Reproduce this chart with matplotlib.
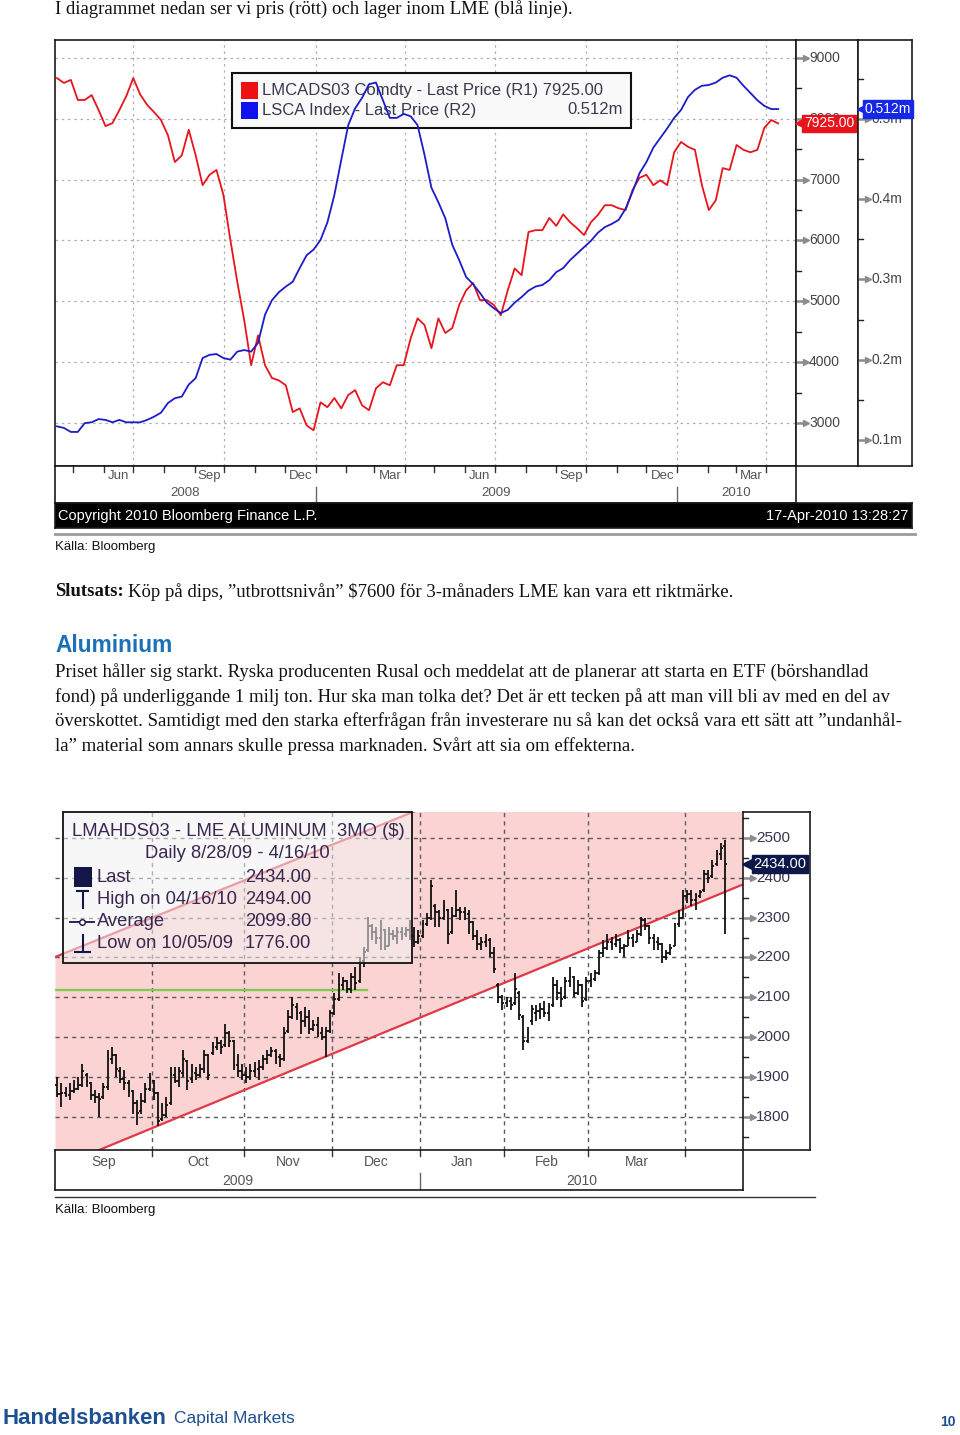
import numpy as np
import pandas as pd
import matplotlib
matplotlib.use("Agg")
import matplotlib.pyplot as plt
from matplotlib.patches import Rectangle
from matplotlib.lines import Line2D

plt.rcParams["font.family"] = ["Liberation Sans", "DejaVu Sans"]

W, H = 960, 1435

# --- copper 3M price (R1) and LME copper stocks in mln t (R2), weekly readings ---
first_week = "2008-04-15"
copper_price = [
    8670, 8590, 8640, 8310, 8310, 8390, 8145, 7880, 7930, 8145,
    8375, 8670, 8400, 8230, 8110, 7980, 7730, 7290, 7400, 7820,
    7400, 6910, 7080, 7160, 6750, 6010, 5320, 4690, 3950, 4440,
    3950, 3740, 3700, 3620, 3180, 3240, 2960, 2880, 3340, 3260,
    3410, 3240, 3460, 3540, 3290, 3210, 3570, 3670, 3620, 3950,
    3950, 4390, 4720, 4610, 4230, 4720, 4480, 4560, 4940, 5180,
    5300, 5020, 5020, 4940, 4770, 5180, 5540, 5430, 6140, 6170,
    6170, 6370, 6240, 6430, 6300, 6200, 6090, 6300, 6420, 6580,
    6580, 6530, 6500, 6830, 7030, 7080, 6910, 6990, 6910, 7450,
    7620, 7540, 7490, 6910, 6500, 6660, 7190, 7160, 7570, 7490,
    7450, 7490, 7850, 7980, 7925,
]
lme_stock = [
    0.117, 0.115, 0.110, 0.110, 0.121, 0.122, 0.126, 0.125, 0.122, 0.125,
    0.122, 0.122, 0.122, 0.125, 0.129, 0.134, 0.146, 0.152, 0.154, 0.169,
    0.177, 0.202, 0.206, 0.207, 0.202, 0.200, 0.210, 0.212, 0.210, 0.221,
    0.256, 0.274, 0.284, 0.291, 0.297, 0.314, 0.330, 0.337, 0.349, 0.371,
    0.405, 0.449, 0.492, 0.513, 0.526, 0.543, 0.545, 0.523, 0.501, 0.501,
    0.506, 0.503, 0.492, 0.455, 0.414, 0.396, 0.376, 0.343, 0.324, 0.303,
    0.294, 0.283, 0.271, 0.264, 0.258, 0.262, 0.271, 0.278, 0.286, 0.291,
    0.293, 0.299, 0.309, 0.314, 0.324, 0.332, 0.340, 0.348, 0.358, 0.365,
    0.369, 0.374, 0.388, 0.409, 0.432, 0.446, 0.464, 0.476, 0.488, 0.501,
    0.511, 0.527, 0.536, 0.541, 0.542, 0.545, 0.551, 0.554, 0.551, 0.541,
    0.532, 0.523, 0.516, 0.512, 0.512,
]
r1_ticks = [3000, 4000, 5000, 6000, 7000, 8000, 9000]
r2_ticks = [0.1, 0.2, 0.3, 0.4, 0.5]
r2_labels = ["0.1m", "0.2m", "0.3m", "0.4m", "0.5m"]
copper_last = 7925.00
stock_last = 0.512

# --- LME aluminium 3M, daily bars 8/28/09 - 4/16/10 ---
alu_open = [
    1880, 1858, 1860, 1855, 1865, 1870, 1880, 1905, 1885, 1855,
    1850, 1850, 1875, 1945, 1955, 1915, 1895, 1885, 1865, 1835,
    1815, 1840, 1870, 1890, 1860, 1795, 1805, 1835, 1905, 1890,
    1910, 1940, 1895, 1910, 1905, 1920, 1955, 1960, 1975, 1985,
    1980, 2010, 1990, 1930, 1915, 1905, 1900, 1915, 1920, 1925,
    1945, 1955, 1965, 1950, 1945, 2015, 2050, 2075, 2060, 2040,
    2050, 2020, 2030, 2010, 2000, 2015, 2060, 2095, 2130, 2140,
    2120, 2150, 2140, 2190, 2220, 2280, 2265, 2250, 2270, 2230,
    2260, 2255, 2265, 2260, 2270, 2255, 2240, 2255, 2285, 2300,
    2330, 2315, 2300, 2320, 2265, 2305, 2320, 2315, 2310, 2290,
    2255, 2235, 2240, 2245, 2210, 2130, 2100, 2085, 2090, 2085,
    2110, 2050, 1990, 2040, 2060, 2065, 2070, 2060, 2080, 2130,
    2110, 2100, 2140, 2150, 2110, 2130, 2095, 2140, 2145, 2160,
    2210, 2225, 2240, 2235, 2245, 2225, 2230, 2250, 2240, 2260,
    2295, 2280, 2250, 2240, 2235, 2200, 2210, 2230, 2285, 2300,
    2355, 2360, 2345, 2355, 2370, 2410, 2405, 2435, 2460, 2480,
]
alu_high = [
    1900, 1884, 1875, 1884, 1892, 1900, 1934, 1909, 1888, 1867,
    1859, 1884, 1967, 1975, 1958, 1925, 1917, 1892, 1867, 1842,
    1859, 1884, 1909, 1892, 1862, 1834, 1850, 1925, 1925, 1925,
    1967, 1942, 1934, 1925, 1934, 1967, 1959, 1988, 2001, 1992,
    2034, 2015, 1992, 1959, 1934, 1925, 1934, 1938, 1942, 1955,
    1967, 1976, 1970, 1959, 2026, 2068, 2101, 2085, 2065, 2076,
    2068, 2043, 2051, 2026, 2026, 2068, 2110, 2160, 2152, 2143,
    2160, 2177, 2202, 2227, 2302, 2285, 2277, 2294, 2272, 2277,
    2269, 2277, 2277, 2277, 2294, 2277, 2269, 2294, 2311, 2394,
    2335, 2319, 2344, 2322, 2327, 2369, 2327, 2327, 2319, 2292,
    2269, 2252, 2260, 2250, 2227, 2135, 2105, 2101, 2101, 2160,
    2115, 2055, 2026, 2080, 2080, 2085, 2090, 2085, 2152, 2143,
    2126, 2152, 2177, 2153, 2143, 2133, 2152, 2160, 2168, 2218,
    2244, 2260, 2252, 2260, 2248, 2235, 2269, 2260, 2269, 2302,
    2298, 2282, 2260, 2252, 2237, 2218, 2235, 2286, 2319, 2369,
    2369, 2369, 2361, 2369, 2420, 2420, 2445, 2470, 2487, 2494,
]
alu_low = [
    1849, 1825, 1850, 1842, 1859, 1867, 1875, 1875, 1842, 1834,
    1800, 1845, 1867, 1934, 1900, 1884, 1867, 1850, 1808, 1779,
    1808, 1835, 1865, 1842, 1776, 1790, 1800, 1830, 1884, 1875,
    1900, 1867, 1884, 1892, 1900, 1909, 1892, 1955, 1967, 1959,
    1975, 1976, 1917, 1900, 1892, 1884, 1892, 1900, 1892, 1917,
    1934, 1951, 1934, 1925, 1940, 2010, 2045, 2043, 2009, 2026,
    2009, 2015, 2001, 1992, 1950, 2010, 2055, 2090, 2118, 2110,
    2110, 2118, 2135, 2177, 2215, 2244, 2235, 2219, 2219, 2228,
    2244, 2235, 2244, 2252, 2244, 2227, 2235, 2250, 2280, 2295,
    2277, 2277, 2294, 2235, 2258, 2302, 2294, 2294, 2260, 2244,
    2219, 2219, 2227, 2202, 2160, 2085, 2068, 2076, 2068, 2080,
    2043, 1967, 1985, 2030, 2040, 2045, 2050, 2040, 2076, 2093,
    2076, 2095, 2127, 2101, 2105, 2076, 2090, 2127, 2140, 2155,
    2202, 2218, 2218, 2227, 2210, 2202, 2228, 2227, 2238, 2255,
    2269, 2235, 2218, 2218, 2185, 2193, 2205, 2228, 2277, 2298,
    2336, 2328, 2319, 2350, 2365, 2386, 2400, 2430, 2445, 2260,
]
alu_close = [
    1858, 1860, 1855, 1865, 1870, 1880, 1915, 1890, 1855, 1850,
    1845, 1875, 1945, 1955, 1920, 1895, 1885, 1865, 1835, 1810,
    1840, 1870, 1895, 1860, 1790, 1805, 1830, 1905, 1890, 1915,
    1945, 1890, 1915, 1905, 1920, 1955, 1905, 1975, 1985, 1975,
    2010, 1990, 1930, 1915, 1905, 1900, 1915, 1920, 1925, 1945,
    1955, 1965, 1950, 1945, 2010, 2050, 2080, 2060, 2040, 2050,
    2020, 2030, 2010, 2000, 2015, 2060, 2095, 2130, 2140, 2120,
    2150, 2135, 2190, 2215, 2280, 2265, 2250, 2270, 2230, 2260,
    2255, 2265, 2260, 2270, 2255, 2240, 2255, 2285, 2300, 2380,
    2315, 2300, 2330, 2260, 2305, 2320, 2315, 2310, 2290, 2255,
    2235, 2240, 2245, 2210, 2170, 2100, 2085, 2090, 2080, 2120,
    2055, 1990, 2010, 2070, 2065, 2070, 2060, 2075, 2130, 2110,
    2095, 2140, 2150, 2110, 2130, 2090, 2140, 2145, 2160, 2210,
    2225, 2240, 2235, 2245, 2225, 2230, 2250, 2240, 2260, 2295,
    2280, 2250, 2240, 2235, 2200, 2210, 2225, 2280, 2300, 2355,
    2360, 2345, 2355, 2365, 2410, 2400, 2430, 2460, 2475, 2434,
]
lme_holidays = ["2009-08-31", "2009-12-25", "2009-12-28", "2010-01-01", "2010-04-02", "2010-04-05"]
alu_ticks = [1800, 1900, 2000, 2100, 2200, 2300, 2400, 2500]
alu_last, alu_hi, alu_avg, alu_lo = 2434.00, 2494.00, 2099.80, 1776.00
# trend channel drawn on the chart: (bar no, price) end points, and a flat resistance line
channel_low = [(10, 1717), (163, 2382)]
channel_high = [(-0.5, 2201), (84.7, 2565)]
resistance_level, resistance_end = 2118, 73.8

body_lines = [
    "Priset håller sig starkt. Ryska producenten Rusal och meddelat att de planerar att starta en ETF (börshandlad",
    "fond) på underliggande 1 milj ton. Hur ska man tolka det? Det är ett tecken på att man vill bli av med en del av",
    "överskottet. Samtidigt med den starka efterfrågan från investerare nu så kan det också vara ett sätt att \u201dundanhål-",
    "la\u201d material som annars skulle pressa marknaden. Svårt att sia om effekterna.",
]


def rect(x0, y0, x1, y1):
    return [x0 / W, 1 - y1 / H, (x1 - x0) / W, (y1 - y0) / H]


def fx(x):
    return x / W


def fy(y):
    return 1 - y / H


def bare(ax):
    ax.set_xticks([])
    ax.set_yticks([])
    for s in ax.spines.values():
        s.set_color("#1a1a1a")
        s.set_linewidth(1.2)


def right_scale(ax, width, majors, labels, minors, fs, color):
    a = 10 / width
    for v, t in zip(majors, labels):
        ax.plot([0, a], [v, v], color="#8c8c8c", lw=1.8, solid_capstyle="butt", clip_on=False)
        ax.plot([a], [v], marker=">", ms=5, color="#8c8c8c", clip_on=False)
        ax.text(a + 3 / width, v, t, fontsize=fs, color=color, va="center", ha="left")
    for v in minors:
        ax.plot([0, 5 / width], [v, v], color="#222222", lw=1, clip_on=False)


def price_tag(ax, width, value, text, color, cx, fs):
    ax.plot([6 / width], [value], marker="<", ms=10, color=color, zorder=5, clip_on=False)
    ax.text(cx / width, value, text, fontsize=fs, color="white", ha="center", va="center", zorder=6,
            bbox=dict(boxstyle="square,pad=0.12", fc=color, ec=color))


fig = plt.figure(figsize=(W / 100, H / 100), dpi=100)
serif = ["Liberation Serif", "DejaVu Serif"]
body_fs = 13.5

fig.text(fx(55), fy(9), "I diagrammet nedan ser vi pris (rött) och lager inom LME (blå linje).",
         family=serif, fontsize=body_fs, va="center", color="#111111")

# ================= chart 1: copper =================
dates = pd.date_range(first_week, periods=len(copper_price), freq="7D")
x_lo, x_hi = pd.Timestamp("2008-04-13"), pd.Timestamp("2010-05-01")
lim1 = (2293, 9296)
lim2 = (0.0676, 0.598)
quarters = pd.date_range("2008-07-01", "2010-04-01", freq="QS")

ax1 = fig.add_axes(rect(55, 40, 796, 466))
ax1.set_xlim(x_lo, x_hi)
ax1.set_ylim(*lim1)
bare(ax1)
for d in quarters:
    ax1.axvline(d, color="#b0b0b0", lw=0.9, ls=(0, (2, 3)), zorder=1)
for v in r1_ticks:
    ax1.axhline(v, color="#b0b0b0", lw=0.9, ls=(0, (2, 3)), zorder=1)
ax1.plot(dates, copper_price, color="#e8141c", lw=1.3, zorder=3)

# legend box (under the blue line, as in the original)
ax1.add_artist(Rectangle((fx(232), fy(128)), (631 - 232) / W, (128 - 73) / H, transform=fig.transFigure,
                         fc="#f9f9f9", ec="#111111", lw=1.5, zorder=4, clip_on=False))
ax1.add_artist(Rectangle((fx(241), fy(99)), 17 / W, 17 / H, transform=fig.transFigure,
                         fc="#ee1111", ec="none", zorder=5, clip_on=False))
ax1.add_artist(Rectangle((fx(241), fy(119)), 17 / W, 17 / H, transform=fig.transFigure,
                         fc="#1111ee", ec="none", zorder=5, clip_on=False))
leg_col = "#3a3a4e"
ax1.text(fx(262), fy(90), f"LMCADS03 Comdty - Last Price (R1) {copper_last:.2f}", transform=fig.transFigure,
         fontsize=12, color=leg_col, va="center", zorder=6)
ax1.text(fx(262), fy(110), "LSCA Index - Last Price (R2)", transform=fig.transFigure,
         fontsize=12, color=leg_col, va="center", zorder=6)
ax1.text(fx(623), fy(110), f"{stock_last:.3f}m", transform=fig.transFigure,
         fontsize=12, color=leg_col, va="center", ha="right", zorder=6)

ax1b = ax1.twinx()
ax1b.set_ylim(*lim2)
ax1b.set_yticks([])
for s in ax1b.spines.values():
    s.set_visible(False)
ax1b.plot(dates, lme_stock, color="#1c1cc8", lw=1.3)

# right scales
axr1 = fig.add_axes(rect(796, 40, 858, 466))
axr1.set_xlim(0, 1)
axr1.set_ylim(*lim1)
bare(axr1)
right_scale(axr1, 62, r1_ticks, [str(v) for v in r1_ticks], np.arange(3500, 9000, 1000), 10, "#444444")
price_tag(axr1, 62, copper_last, f"{copper_last:.2f}", "#e8141c", 33, 10)

axr2 = fig.add_axes(rect(858, 40, 912, 466))
axr2.set_xlim(0, 1)
axr2.set_ylim(*lim2)
bare(axr2)
right_scale(axr2, 54, r2_ticks, r2_labels, np.arange(0.15, 0.6, 0.1), 10, "#444444")
price_tag(axr2, 54, stock_last, f"{stock_last:.3f}m", "#1428e6", 30, 10)

# time axis
axb1 = fig.add_axes(rect(55, 466, 796, 503))
axb1.set_xlim(x_lo, x_hi)
axb1.set_ylim(0, 1)
bare(axb1)
for d in pd.date_range("2008-05-01", "2010-04-01", freq="MS"):
    axb1.plot([d, d], [1, 1 - 6 / 37], color="#333333", lw=1)
for q in quarters:
    axb1.text(q - pd.Timedelta(days=15), 0.72, (q - pd.Timedelta(days=1)).strftime("%b"),
              ha="center", va="center", fontsize=9.5, color="#555555")
year_edges = [x_lo, pd.Timestamp("2009-01-01"), pd.Timestamp("2010-01-01"), x_hi]
for yr, a, b in zip(["2008", "2009", "2010"], year_edges[:-1], year_edges[1:]):
    axb1.text(a + (b - a) / 2, 0.27, yr, ha="center", va="center", fontsize=9.5, color="#555555")
for d in year_edges[1:3]:
    axb1.plot([d, d], [0, 0.43], color="#666666", lw=1)

axc = fig.add_axes(rect(55, 503, 912, 528), facecolor="black")
bare(axc)
axc.text(0.004, 0.5, "Copyright 2010 Bloomberg Finance L.P.", color="white", fontsize=10.5, va="center")
axc.text(0.996, 0.5, "17-Apr-2010 13:28:27", color="white", fontsize=10.5, va="center", ha="right")

fig.add_artist(Line2D([fx(55), fx(915)], [fy(534), fy(534)], color="#9a9a9a", lw=2))
fig.text(fx(55), fy(547), "Källa: Bloomberg", fontsize=9.5, va="center", color="#111111")

# ================= text block =================
t = fig.text(fx(55), fy(592), "Slutsats:", family=serif, weight="bold", fontsize=body_fs, va="center",
             color="#111111")
renderer = fig.canvas.get_renderer()
sw = t.get_window_extent(renderer).width
fig.text(fx(55 + sw + 4), fy(592),
         "Köp på dips, \u201dutbrottsnivån\u201d $7600 för 3-månaders LME kan vara ett riktmärke.",
         family=serif, fontsize=body_fs, va="center", color="#111111")
fig.text(fx(55), fy(646), "Aluminium", weight="bold", fontsize=16.3, va="center", color="#1b70b8")
for i, line in enumerate(body_lines):
    fig.text(fx(55), fy(672 + 24.7 * i), line, family=serif, fontsize=body_fs, va="center", color="#111111")

# ================= chart 2: aluminium =================
n = len(alu_close)
bar_x = np.arange(n)
days = pd.bdate_range("2009-08-28", "2010-04-16")
days = days[~days.isin(pd.to_datetime(lme_holidays))]
first_of_month = [i for i in range(1, n) if days[i].month != days[i - 1].month]
bounds = [i - 0.5 for i in first_of_month][1:]      # Oct .. Apr
xlim2 = (-0.5, 163.3)
lim3 = (1717, 2565)

ax2 = fig.add_axes(rect(55, 812, 743, 1150))
ax2.set_xlim(*xlim2)
ax2.set_ylim(*lim3)
bare(ax2)
for s in ax2.spines.values():
    s.set_visible(False)
xs = np.array(xlim2)


def line_through(pts, x):
    (x0, y0), (x1, y1) = pts
    return y0 + (y1 - y0) / (x1 - x0) * (x - x0)


ax2.fill_between(xs, line_through(channel_low, xs), line_through(channel_high, xs), color="#fbd3d3", lw=0, zorder=0)
for v in alu_ticks:
    ax2.axhline(v, color="#5a5a5a", lw=1, ls=(0, (3, 3)), zorder=1)
for b in bounds:
    ax2.axvline(b, color="#5a5a5a", lw=1, ls=(0, (3, 3)), zorder=1)
ax2.plot(xs, line_through(channel_low, xs), color="#e03a48", lw=1.6, zorder=2)
ax2.plot(xs, line_through(channel_high, xs), color="#e03a48", lw=1.6, zorder=2)
ax2.plot([xlim2[0], resistance_end], [resistance_level] * 2, color="#7dcc4e", lw=1.6, zorder=2)
ax2.vlines(bar_x, alu_low, alu_high, color="#111111", lw=1.3, zorder=3)
ax2.hlines(alu_open, bar_x - 0.45, bar_x, color="#111111", lw=1.3, zorder=3)
ax2.hlines(alu_close, bar_x, bar_x + 0.45, color="#111111", lw=1.3, zorder=3)

axr3 = fig.add_axes(rect(743, 812, 810, 1150))
axr3.set_xlim(0, 1)
axr3.set_ylim(*lim3)
bare(axr3)
right_scale(axr3, 67, alu_ticks, [str(v) for v in alu_ticks], np.arange(1750, 2600, 100), 11, "#3b3350")
price_tag(axr3, 67, alu_last, f"{alu_last:.2f}", "#0d1848", 37, 10.5)

axb2 = fig.add_axes(rect(55, 1150, 743, 1190))
axb2.set_xlim(*xlim2)
axb2.set_ylim(0, 1)
bare(axb2)
for b in bounds:
    axb2.plot([b, b], [1, 1 - 6 / 40], color="#333333", lw=1)
edges = [xlim2[0]] + bounds
for k in range(len(edges) - 1):
    mid = (edges[k] + edges[k + 1]) / 2
    axb2.text(mid, 0.7, days[first_of_month[k]].strftime("%b"), ha="center", va="center",
              fontsize=10, color="#555555")
jan = bounds[3]
for yr, a, b in [("2009", xlim2[0], jan), ("2010", jan, xlim2[1])]:
    axb2.text((a + b) / 2, 0.23, yr, ha="center", va="center", fontsize=10, color="#555555")
axb2.plot([jan, jan], [0, 0.43], color="#666666", lw=1)

# legend overlay
fig.add_artist(Rectangle((fx(63), fy(963)), (412 - 63) / W, (963 - 812) / H, transform=fig.transFigure,
                         facecolor=(0.95, 0.95, 0.95, 0.55), edgecolor="#111111", lw=1.3))
lc = "#3a2750"
navy = "#14164a"
fig.text(fx(72), fy(831), "LMAHDS03 - LME ALUMINUM  3MO ($)", fontsize=13.3, color=lc, va="center")
fig.text(fx(237), fy(854), "Daily 8/28/09 - 4/16/10", fontsize=13.2, color=lc, va="center", ha="center")
rows = [("Last", alu_last), ("High on 04/16/10", alu_hi), ("Average", alu_avg), ("Low on 10/05/09", alu_lo)]
for k, (lab, val) in enumerate(rows):
    yy = [877, 899, 922, 944][k]
    fig.text(fx(97), fy(yy), lab, fontsize=13.2, color=lc, va="center")
    fig.text(fx(245), fy(yy), f"{val:.2f}", fontsize=13.2, color=lc, va="center")
fig.add_artist(Rectangle((fx(74), fy(887)), 18 / W, 20 / H, transform=fig.transFigure, fc=navy, ec="none"))
fig.add_artist(Line2D([fx(77), fx(88)], [fy(891)] * 2, color=navy, lw=1.5))
fig.add_artist(Line2D([fx(82.5)] * 2, [fy(891), fy(908)], color=navy, lw=1.5))
fig.add_artist(Line2D([fx(70), fx(94)], [fy(922)] * 2, color=navy, lw=1.3))
fig.add_artist(Line2D([fx(82)], [fy(922)], marker="o", ms=4, mfc="white", mec=navy, color=navy))
fig.add_artist(Line2D([fx(82.5)] * 2, [fy(935), fy(952)], color=navy, lw=1.5))
fig.add_artist(Line2D([fx(75), fx(90)], [fy(952)] * 2, color=navy, lw=1.5))

fig.add_artist(Line2D([fx(55), fx(815)], [fy(1197), fy(1197)], color="#333333", lw=1))
fig.text(fx(55), fy(1210), "Källa: Bloomberg", fontsize=9.5, va="center", color="#111111")

# footer
hb = fig.text(fx(3), fy(1418), "Handelsbanken", weight="bold", fontsize=16, color="#1d4f91", va="center")
hw = hb.get_window_extent(renderer).width
fig.text(fx(3 + hw + 7), fy(1419), "Capital Markets", fontsize=12.5, color="#1d4f91", va="center")
fig.text(fx(948), fy(1422), "10", weight="bold", fontsize=10, color="#1d4f91", va="center", ha="center")

fig.savefig("out.png", dpi=100)
